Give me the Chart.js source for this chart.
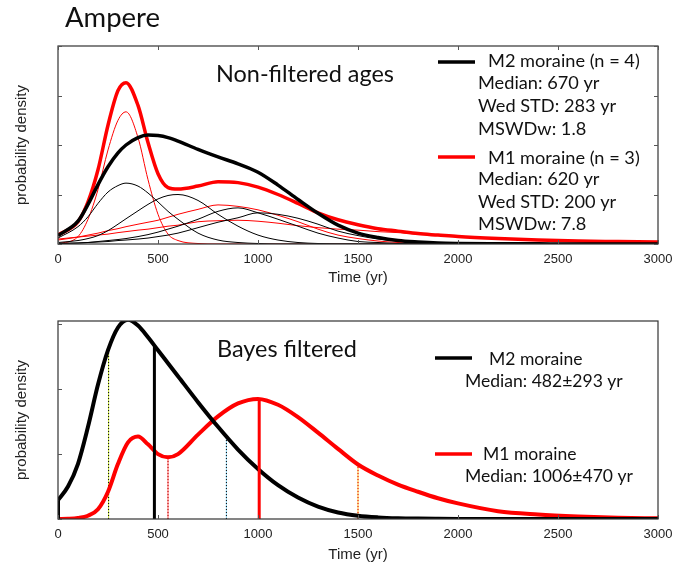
<!DOCTYPE html>
<html>
<head>
<meta charset="utf-8">
<script src="https://cdn.jsdelivr.net/npm/chart.js@4/dist/chart.umd.min.js"></script>
<style>
    body { margin: 0; background: #fff; }
    #wrap { position: relative; width: 688px; height: 566px; }
    canvas { position: absolute; left: 0; }
    #topChart { top: 0; }
    #bottomChart { top: 290px; }
</style>
</head>
<body>
<div id="wrap">
    <canvas id="topChart" width="688" height="290"></canvas>
    <canvas id="bottomChart" width="688" height="276"></canvas>
</div>
<script>
// 공통 x축 눈금 (yr)
const timeTicks = [0, 500, 1000, 1500, 2000, 2500, 3000];

// ---- 위 패널: Non-filtered ages ----
const topTimes = [0, 100, 150, 200, 250, 300, 340, 400, 450, 500, 550, 600, 700, 800, 900, 1000,
    1100, 1200, 1300, 1400, 1500, 1600, 1700, 1800, 1900, 2000, 2200, 2400, 2600, 2800, 3000];
const topDensityTicks = [0, 1, 2, 3, 4];

// M2 moraine 합계 (굵은 검정)
const m2Sum = [0.17, 0.46, 0.8, 1.2, 1.56, 1.84, 2.0, 2.15, 2.2, 2.19, 2.15, 2.08, 1.91, 1.76, 1.62, 1.45,
    1.19, 0.9, 0.62, 0.38, 0.22, 0.13, 0.07, 0.04, 0.02, 0.012, 0.006, 0.003, 0.001, 0, 0];
// M1 moraine 합계 (굵은 빨강)
const m1Sum = [0.18, 0.45, 0.85, 1.5, 2.4, 3.1, 3.26, 2.8, 2.05, 1.42, 1.14, 1.11, 1.17, 1.26, 1.24, 1.15,
    1.0, 0.82, 0.63, 0.49, 0.39, 0.31, 0.26, 0.21, 0.18, 0.15, 0.11, 0.08, 0.06, 0.05, 0.04];

// M2 개별 연대 (가는 검정)
const m2Age1 = [0.12, 0.35, 0.55, 0.82, 1.05, 1.18, 1.23, 1.17, 1.03, 0.85, 0.66, 0.5, 0.22, 0.08, 0.03, 0.01,
    0, 0, 0, 0, 0, 0, 0, 0, 0, 0, 0, 0, 0, 0, 0];
const m2Age2 = [0.03, 0.07, 0.11, 0.17, 0.27, 0.4, 0.51, 0.67, 0.8, 0.91, 0.98, 1.0, 0.88, 0.6, 0.36, 0.18,
    0.08, 0.03, 0.01, 0, 0, 0, 0, 0, 0, 0, 0, 0, 0, 0, 0];
const m2Age3 = [0.01, 0.02, 0.03, 0.05, 0.07, 0.09, 0.11, 0.15, 0.19, 0.24, 0.3, 0.36, 0.5, 0.66, 0.73, 0.63,
    0.5, 0.36, 0.22, 0.12, 0.05, 0.03, 0.01, 0, 0, 0, 0, 0, 0, 0, 0];
const m2Age4 = [0.01, 0.02, 0.03, 0.04, 0.05, 0.07, 0.08, 0.1, 0.12, 0.15, 0.18, 0.22, 0.33, 0.44, 0.53, 0.63,
    0.6, 0.52, 0.4, 0.26, 0.17, 0.1, 0.06, 0.03, 0.01, 0, 0, 0, 0, 0, 0];

// M1 개별 연대 (가는 빨강)
const m1Age1 = [0, 0.15, 0.5, 1.1, 1.9, 2.5, 2.67, 2.15, 1.3, 0.6, 0.2, 0.07, 0.01, 0, 0, 0,
    0, 0, 0, 0, 0, 0, 0, 0, 0, 0, 0, 0, 0, 0, 0];
const m1Age2 = [0.08, 0.14, 0.18, 0.22, 0.27, 0.31, 0.35, 0.4, 0.44, 0.48, 0.54, 0.6, 0.7, 0.79, 0.76, 0.69,
    0.58, 0.45, 0.3, 0.18, 0.11, 0.06, 0.03, 0.01, 0.005, 0, 0, 0, 0, 0, 0];
const m1Age3 = [0.1, 0.14, 0.16, 0.18, 0.2, 0.23, 0.25, 0.28, 0.3, 0.33, 0.36, 0.38, 0.45, 0.47, 0.48, 0.46,
    0.42, 0.37, 0.33, 0.3, 0.28, 0.25, 0.23, 0.2, 0.175, 0.15, 0.11, 0.08, 0.06, 0.05, 0.04];

// ---- 아래 패널: Bayes filtered ----
const bayesTimes = [0, 50, 100, 150, 200, 250, 300, 350, 400, 450, 500, 550, 600, 700, 800, 900, 1000,
    1100, 1200, 1300, 1400, 1500, 1600, 1700, 1800, 1900, 2000, 2200, 2400, 2600, 2800, 3000];
const bottomDensityTicks = [0, 1, 2, 3];

const m2Bayes = [0.29, 0.5, 0.85, 1.42, 2.07, 2.6, 2.95, 3.07, 2.98, 2.8, 2.6, 2.4, 2.2, 1.8, 1.42, 1.07, 0.77,
    0.52, 0.33, 0.19, 0.1, 0.05, 0.025, 0.012, 0.006, 0.003, 0.001, 0, 0, 0, 0, 0];
const m1Bayes = [0, 0.003, 0.015, 0.05, 0.15, 0.42, 0.85, 1.18, 1.27, 1.15, 1.0, 0.95, 1.0, 1.3, 1.58, 1.78, 1.85,
    1.76, 1.57, 1.33, 1.08, 0.84, 0.67, 0.53, 0.42, 0.32, 0.24, 0.12, 0.07, 0.04, 0.02, 0.01];

// 중앙값 (M2, M1) 과 신뢰구간 경계
const medianTimes = [482, 1006];
const medianTops = [2.66, 1.84];
const boundTimes = [253, 842, 550, 1500];
const boundTops = [2.62, 1.27, 0.95, 0.84];

// ---------------------------------------------------------------
const pts = (xs, ys) => xs.map((x, i) => ({ x: x, y: ys[i] }));

function curve(data, color, width) {
    return {
        data: data,
        borderColor: color,
        borderWidth: width,
        pointRadius: 0,
        fill: false,
        cubicInterpolationMode: 'monotone'
    };
}

function straight(data, color, width, dash) {
    return {
        data: data,
        borderColor: color,
        borderWidth: width,
        borderDash: dash || [],
        pointRadius: 0,
        fill: false,
        tension: 0
    };
}

const NOTE_FONT = 'Lato, "Open Sans", sans-serif';
const AXIS_FONT = '"Liberation Sans", Arial, sans-serif';

// 목표 폭에 맞는 글자 크기 계산
function fitSize(ctx, text, width) {
    ctx.font = '20px ' + NOTE_FONT;
    return 20 * width / ctx.measureText(text).width;
}

// 테두리 + 안쪽 눈금
const framePlugin = {
    id: 'frame',
    afterDatasetsDraw(chart, args, opts) {
        const { ctx, chartArea: a, scales } = chart;
        ctx.save();
        ctx.strokeStyle = '#333';
        ctx.lineWidth = 1.2;
        ctx.strokeRect(a.left, a.top, a.right - a.left, a.bottom - a.top);
        ctx.strokeStyle = '#555';
        ctx.lineWidth = 1;
        ctx.beginPath();
        timeTicks.forEach(t => {
            const x = Math.round(scales.x.getPixelForValue(t)) + 0.5;
            ctx.moveTo(x, a.bottom);
            ctx.lineTo(x, a.bottom - 4);
            if (opts.mirror) {
                ctx.moveTo(x, a.top);
                ctx.lineTo(x, a.top + 4);
            }
        });
        opts.yTicks.forEach(v => {
            const y = Math.round(scales.y.getPixelForValue(v)) + 0.5;
            ctx.moveTo(a.left, y);
            ctx.lineTo(a.left + 4, y);
            if (opts.mirror) {
                ctx.moveTo(a.right, y);
                ctx.lineTo(a.right - 4, y);
            }
        });
        ctx.stroke();
        ctx.restore();
    }
};

// 제목 / 범례 텍스트
const notePlugin = {
    id: 'notes',
    afterDraw(chart, args, opts) {
        const ctx = chart.ctx;
        ctx.save();
        ctx.fillStyle = '#111';
        ctx.textBaseline = 'alphabetic';
        ctx.textAlign = 'left';
        opts.groups.forEach(g => {
            const size = fitSize(ctx, g.ref, g.refWidth);
            ctx.font = size.toFixed(2) + 'px ' + NOTE_FONT;
            g.items.forEach(it => ctx.fillText(it[0], it[1], it[2]));
        });
        opts.keys.forEach(k => {
            ctx.strokeStyle = k.color;
            ctx.lineWidth = 3.5;
            ctx.beginPath();
            ctx.moveTo(k.x0, k.y);
            ctx.lineTo(k.x1, k.y);
            ctx.stroke();
        });
        ctx.restore();
    }
};

function scalesFor(yMax, axisHeight, titlePad) {
    return {
        x: {
            type: 'linear',
            min: 0,
            max: 3000,
            afterBuildTicks: s => { s.ticks = timeTicks.map(v => ({ value: v })); },
            ticks: {
                callback: v => String(v),
                font: { family: AXIS_FONT, size: 13 },
                color: '#222',
                padding: 8,
                maxRotation: 0,
                autoSkip: false
            },
            grid: { display: false, drawTicks: false },
            border: { display: false },
            title: {
                display: true,
                text: 'Time (yr)',
                font: { family: AXIS_FONT, size: 15 },
                color: '#222',
                padding: { top: 0, bottom: titlePad }
            },
            afterFit: s => { s.height = axisHeight; }
        },
        y: {
            min: 0,
            max: yMax,
            ticks: { display: false },
            grid: { display: false, drawTicks: false },
            border: { display: false },
            title: {
                display: true,
                text: 'probability density',
                font: { family: AXIS_FONT, size: 15 },
                color: '#222',
                padding: { top: 13, bottom: 0 }
            },
            afterFit: s => { s.width = 58; }
        }
    };
}

// ---- 위 차트 ----
new Chart(document.getElementById('topChart'), {
    type: 'line',
    data: {
        datasets: [
            curve(pts(topTimes, m2Sum), '#000', 3.5),
            curve(pts(topTimes, m1Sum), '#ff0000', 3.5),
            curve(pts(topTimes, m2Age1), '#000', 1),
            curve(pts(topTimes, m2Age2), '#000', 1),
            curve(pts(topTimes, m2Age3), '#000', 1),
            curve(pts(topTimes, m2Age4), '#000', 1),
            curve(pts(topTimes, m1Age1), '#ff0000', 1),
            curve(pts(topTimes, m1Age2), '#ff0000', 1),
            curve(pts(topTimes, m1Age3), '#ff0000', 1)
        ]
    },
    options: {
        responsive: false,
        animation: false,
        devicePixelRatio: 1,
        layout: { padding: { top: 46, right: 30, left: 0, bottom: 0 } },
        plugins: {
            legend: { display: false },
            tooltip: { enabled: false },
            frame: { mirror: true, yTicks: topDensityTicks },
            notes: {
                groups: [
                    { ref: 'Ampere', refWidth: 95, items: [['Ampere', 65, 27]] },
                    { ref: 'Non-filtered ages', refWidth: 178, items: [['Non-filtered ages', 216, 82]] },
                    {
                        ref: 'M2 moraine (n = 4)', refWidth: 152, items: [
                            ['M2 moraine (n = 4)', 488, 67],
                            ['Median: 670 yr', 478, 89],
                            ['Wed STD: 283 yr', 478, 112],
                            ['MSWDw: 1.8', 478, 135],
                            ['M1 moraine (n = 3)', 488, 164],
                            ['Median: 620 yr', 478, 185],
                            ['Wed STD: 200 yr', 478, 208],
                            ['MSWDw: 7.8', 478, 230]
                        ]
                    }
                ],
                keys: [
                    { color: '#000', x0: 438, x1: 475, y: 62 },
                    { color: '#ff0000', x0: 438, x1: 475, y: 157 }
                ]
            }
        },
        scales: scalesFor(4, 46, 3)
    },
    plugins: [framePlugin, notePlugin]
});

// ---- 아래 차트 ----
const boundStyles = [
    ['#c6df3a', '#000'],
    ['#8fd3f0', '#000'],
    ['#ff5050', '#b00000'],
    ['#ffb020', '#e00000']
];

const bottomSets = [];
medianTimes.forEach((t, i) => {
    bottomSets.push(straight([{ x: t, y: 0 }, { x: t, y: medianTops[i] }], i === 0 ? '#000' : '#ff0000', 3));
});
bottomSets.push(curve(pts(bayesTimes, m2Bayes), '#000', 4));
bottomSets.push(straight([{ x: bayesTimes[0], y: 0 }, { x: bayesTimes[0], y: m2Bayes[0] }], '#000', 4));
bottomSets.push(curve(pts(bayesTimes, m1Bayes), '#ff0000', 4));
boundTimes.forEach((t, i) => {
    const seg = [{ x: t, y: 0 }, { x: t, y: boundTops[i] }];
    bottomSets.push(straight(seg, boundStyles[i][1], 1, [1, 2]));
    bottomSets.push(straight(seg, boundStyles[i][0], 1));
});

new Chart(document.getElementById('bottomChart'), {
    type: 'line',
    data: { datasets: bottomSets },
    options: {
        responsive: false,
        animation: false,
        devicePixelRatio: 1,
        layout: { padding: { top: 31, right: 30, left: 0, bottom: 0 } },
        plugins: {
            legend: { display: false },
            tooltip: { enabled: false },
            frame: { mirror: false, yTicks: bottomDensityTicks },
            notes: {
                groups: [
                    { ref: 'Non-filtered ages', refWidth: 178, items: [['Bayes filtered', 217, 67]] },
                    {
                        ref: 'Median: 1006±470 yr', refWidth: 168, items: [
                            ['M2 moraine', 489, 75],
                            ['Median: 482±293 yr', 465, 97],
                            ['M1 moraine', 483, 170],
                            ['Median: 1006±470 yr', 465, 192]
                        ]
                    }
                ],
                keys: [
                    { color: '#000', x0: 435, x1: 472, y: 68 },
                    { color: '#ff0000', x0: 435, x1: 472, y: 164 }
                ]
            }
        },
        scales: scalesFor(3.05, 47, 2)
    },
    plugins: [framePlugin, notePlugin]
});
</script>
</body>
</html>
